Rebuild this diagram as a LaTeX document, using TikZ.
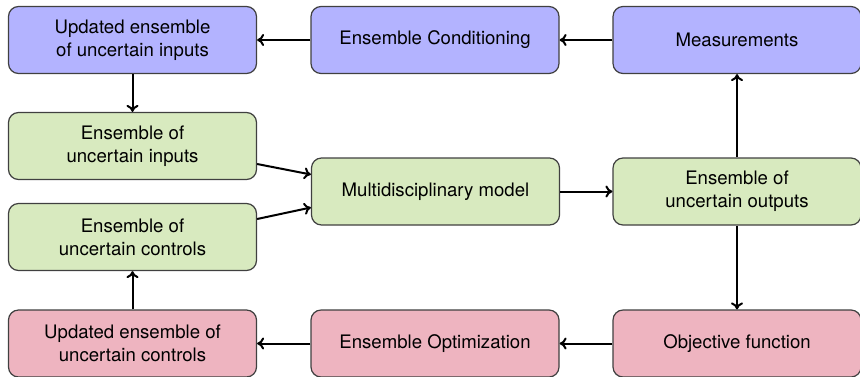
\documentclass[tikz,border=0pt]{standalone}
\usepackage{fontspec}
\setmainfont{TeX Gyre Heros}
\usetikzlibrary{arrows.meta}
\definecolor{condblue}{RGB}{179,179,255}
\definecolor{modelgreen}{RGB}{216,234,191}
\definecolor{optpink}{RGB}{238,180,192}
\tikzset{
  blockbox/.style={draw=black!75, line width=0.6pt, rounded corners=5pt,
    minimum width=124pt, minimum height=33.5pt, align=center,
    font=\fontsize{9.3}{11.6}\selectfont, inner sep=2pt},
  bluebox/.style={blockbox, fill=condblue},
  greenbox/.style={blockbox, fill=modelgreen},
  pinkbox/.style={blockbox, fill=optpink},
  flow/.style={-{To[length=3.5pt,width=6pt]}, line width=1pt}
}
\begin{document}
\begin{tikzpicture}[x=0.5pt,y=-0.5pt]
  \useasboundingbox (0,0) rectangle (860,376);
  % top row: conditioning loop
  \node[bluebox]  (updin)  at (132.5,40) {Updated ensemble\\of uncertain inputs};
  \node[bluebox]  (cond)   at (435,40)   {Ensemble Conditioning};
  \node[bluebox]  (meas)   at (737,40)   {Measurements};
  % middle: model and its inputs/outputs
  \node[greenbox] (ensin)  at (132.5,146)   {Ensemble of\\uncertain inputs};
  \node[greenbox] (ensctl) at (132.5,237)   {Ensemble of\\uncertain controls};
  \node[greenbox] (model)  at (435.5,191.5) {Multidisciplinary model};
  \node[greenbox] (ensout) at (737,191.5)   {Ensemble of\\uncertain outputs};
  % bottom row: optimization loop
  \node[pinkbox]  (updctl) at (132.5,343.5) {Updated ensemble of\\uncertain controls};
  \node[pinkbox]  (opt)    at (435,343.5)   {Ensemble Optimization};
  \node[pinkbox]  (obj)    at (737,343.5)   {Objective function};

  \draw[flow] (cond) -- (updin);
  \draw[flow] (meas) -- (cond);
  \draw[flow] (updin) -- (ensin);
  \draw[flow] ([yshift=-9pt]ensin.east) -- ([yshift=8.5pt]model.west);
  \draw[flow] ([yshift=9pt]ensctl.east) -- ([yshift=-8pt]model.west);
  \draw[flow] (model) -- (ensout);
  \draw[flow] (ensout) -- (meas);
  \draw[flow] (ensout) -- (obj);
  \draw[flow] (obj) -- (opt);
  \draw[flow] (opt) -- (updctl);
  \draw[flow] (updctl) -- (ensctl);
\end{tikzpicture}
\end{document}
